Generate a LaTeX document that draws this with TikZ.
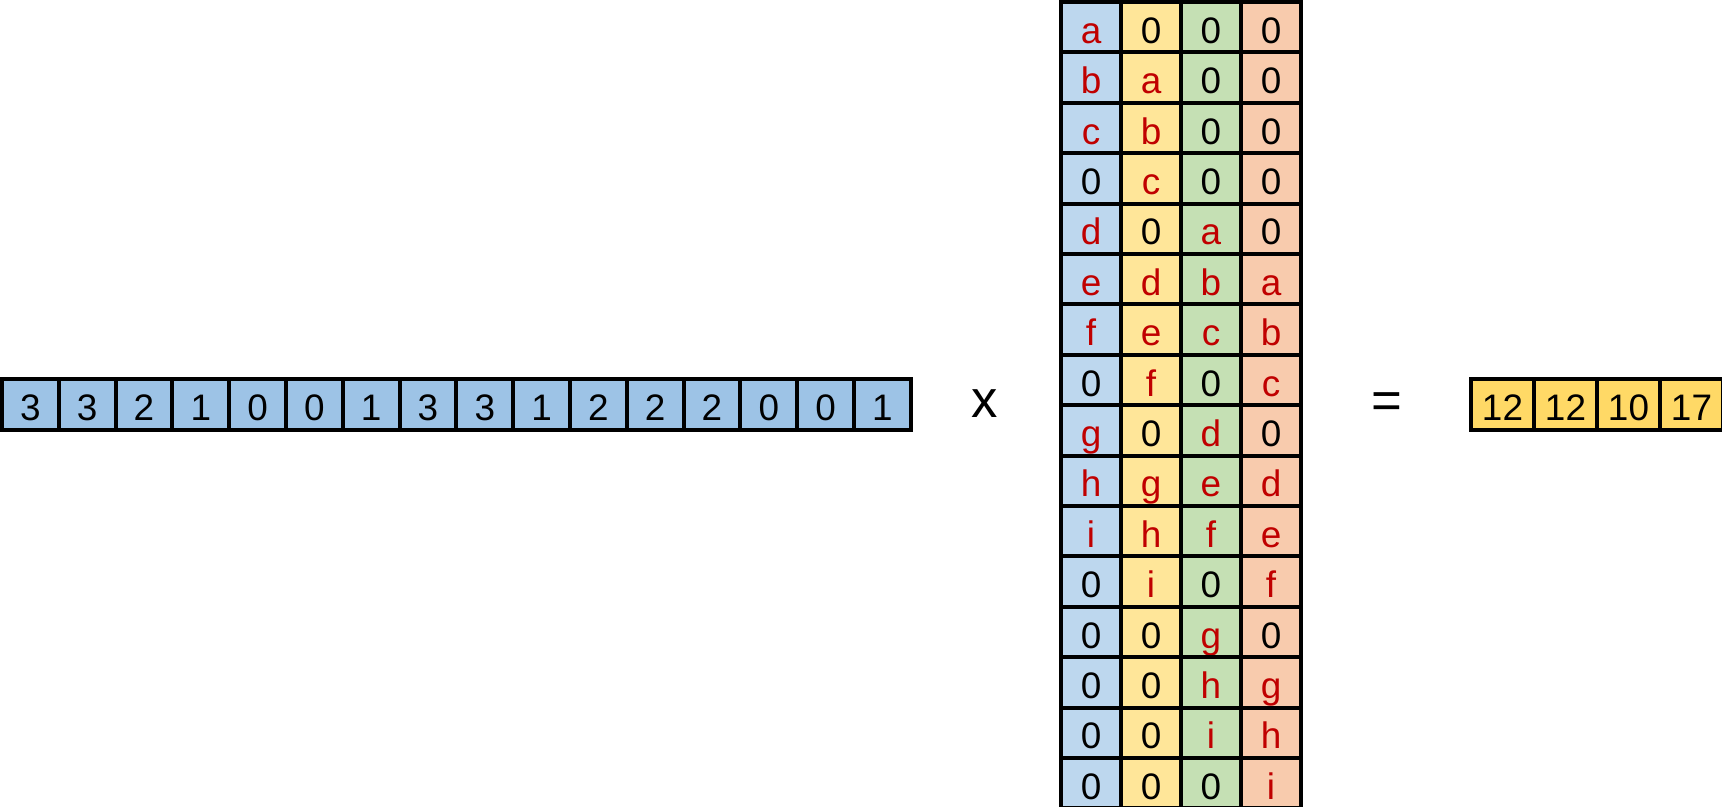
\documentclass[tikz,border=0pt]{standalone}
\usepackage{fontspec}
\setmainfont{Liberation Sans}
\usepackage{xcolor}
\usetikzlibrary{positioning}
\definecolor{vecblue}{HTML}{9DC3E6}
\definecolor{colblue}{HTML}{BDD7EE}
\definecolor{colyellow}{HTML}{FFE699}
\definecolor{colgreen}{HTML}{C5E0B4}
\definecolor{colorange}{HTML}{F8CBAD}
\definecolor{resyellow}{HTML}{FFD966}
\definecolor{varred}{HTML}{C00000}
\newcommand{\var}[1]{\textcolor{varred}{#1}}
\tikzset{
	cell/.style={draw=black, line width=2.2pt, inner sep=0pt, text height=0.64cm, text depth=0cm, font=\fontsize{21}{21}\selectfont}, % one box of a vector or of the matrix
	vcell/.style={cell, fill=vecblue, minimum width=1.136cm, minimum height=1.02cm},
	mcell/.style={cell, minimum width=1.2cm, minimum height=1.008cm},
	rcell/.style={cell, fill=resyellow, minimum width=1.26cm, minimum height=1.02cm},
	op/.style={font=\fontsize{30}{30}\selectfont},
}
\begin{document}
\begin{tikzpicture}[x=0.02cm, y=-0.02cm]
		\useasboundingbox (0,0) rectangle (1722,806);
		% Input vector
		\foreach \v [count=\i from 0] in {3,3,2,1,0,0,1,3,3,1,2,2,2,0,0,1}
		\node[vcell] (v\i) at ({2+56.8*(\i+0.5)}, 404.5) {\v};
		
		% Kernel matrix, one row per step
		\foreach \p/\q/\r/\s [count=\i from 0] in {
			\var{a}/0/0/0, \var{b}/\var{a}/0/0, \var{c}/\var{b}/0/0, 0/\var{c}/0/0,
			\var{d}/0/\var{a}/0, \var{e}/\var{d}/\var{b}/\var{a}, \var{f}/\var{e}/\var{c}/\var{b}, 0/\var{f}/0/\var{c},
			\var{g}/0/\var{d}/0, \var{h}/\var{g}/\var{e}/\var{d}, \var{i}/\var{h}/\var{f}/\var{e}, 0/\var{i}/0/\var{f},
			0/0/\var{g}/0, 0/0/\var{h}/\var{g}, 0/0/\var{i}/\var{h}, 0/0/0/\var{i}}
		{
			\node[mcell, fill=colblue] (m\i-1) at (1091, {2+50.4*(\i+0.5)}) {\p};
			\node[mcell, fill=colyellow] (m\i-2) at (1151, {2+50.4*(\i+0.5)}) {\q};
			\node[mcell, fill=colgreen] (m\i-3) at (1211, {2+50.4*(\i+0.5)}) {\r};
			\node[mcell, fill=colorange] (m\i-4) at (1271, {2+50.4*(\i+0.5)}) {\s};
		}
		
		% Result vector
		\foreach \v [count=\i from 0] in {12,12,10,17}
		\node[rcell] (r\i) at ({1471+63*(\i+0.5)}, 404.5) {\v};
		
		% Operators
		\node[op] (times) at (985,404) {x};
		\node[op] (equals) at (1387,406) {=};
	\end{tikzpicture}
\end{document}
